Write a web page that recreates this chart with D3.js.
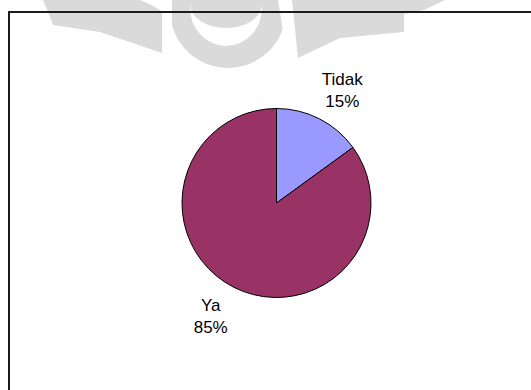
<!DOCTYPE html>
<html>
<head>
<meta charset="utf-8">
<script src="https://cdn.jsdelivr.net/npm/d3@7"></script>
<style>
  html, body { margin: 0; padding: 0; background: #fff; }
  svg { display: block; }
</style>
</head>
<body>
<svg id="chart" width="531" height="390"></svg>
<script>
// Survey answers and their shares (percent)
const categories = ["Tidak", "Ya"];
const values = [15, 85];
const colors = ["#9999FF", "#993366"];

const width = 531, height = 390;
const svg = d3.select("#chart");

// Faint emblem in the page background
const mark = svg.append("g").attr("fill", "#dadada");
mark.append("path").attr("d",
  "M43,0 L140,0 C150,4 158,8 162,12 L162,53 L100,32 L53,25 L48,12 Z");
mark.append("circle").attr("cx", 228).attr("cy", 10).attr("r", 58);
mark.append("path").attr("fill", "#fff").attr("d",
  "M190,8 A36,38 0 0 0 262,8 L262,4 A36,24 0 0 1 190,4 Z");
mark.append("path").attr("fill", "#fff").attr("d",
  "M162,0 L172,0 L172,70 L162,70 Z");
mark.append("path").attr("fill", "#fff").attr("d",
  "M278,0 L292,0 L300,58 L288,62 Z");
mark.append("path").attr("d",
  "M292,0 L445,0 L424,10 L404,14 L404,32 L340,38 L298,58 Z");

// Chart frame (only the top and left edges fall inside the view)
svg.append("rect")
  .attr("x", 9).attr("y", 12)
  .attr("width", 700).attr("height", 600)
  .attr("fill", "none")
  .attr("stroke", "#1a1a1a")
  .attr("stroke-width", 2);

const cx = 276.5, cy = 203, radius = 94.5;

const pie = d3.pie().sort(null).value(d => d.value);
const arcs = pie(categories.map((c, i) => ({ name: c, value: values[i], color: colors[i] })));

const arc = d3.arc().innerRadius(0).outerRadius(radius);

const g = svg.append("g").attr("transform", `translate(${cx},${cy})`);

g.selectAll("path.slice")
  .data(arcs)
  .join("path")
  .attr("class", "slice")
  .attr("d", arc)
  .attr("fill", d => d.data.color)
  .attr("stroke", "#000")
  .attr("stroke-width", 1);

// Category and percentage labels placed outside each slice
const labelRadius = 131;
const total = d3.sum(values);
const fmt = d3.format(".0%");

const labels = g.selectAll("text.label")
  .data(arcs)
  .join("text")
  .attr("class", "label")
  .attr("text-anchor", "middle")
  .attr("font-family", "Arial, 'Liberation Sans', sans-serif")
  .attr("font-size", 17)
  .attr("fill", "#000")
  .attr("transform", d => {
    const a = (d.startAngle + d.endAngle) / 2 + 0.055;
    const x = Math.sin(a) * labelRadius;
    const y = -Math.cos(a) * labelRadius;
    return `translate(${x},${y})`;
  });

labels.append("tspan")
  .attr("x", 0).attr("y", -5)
  .text(d => d.data.name);
labels.append("tspan")
  .attr("x", 0).attr("y", 17)
  .text(d => fmt(d.data.value / total));
</script>
</body>
</html>
